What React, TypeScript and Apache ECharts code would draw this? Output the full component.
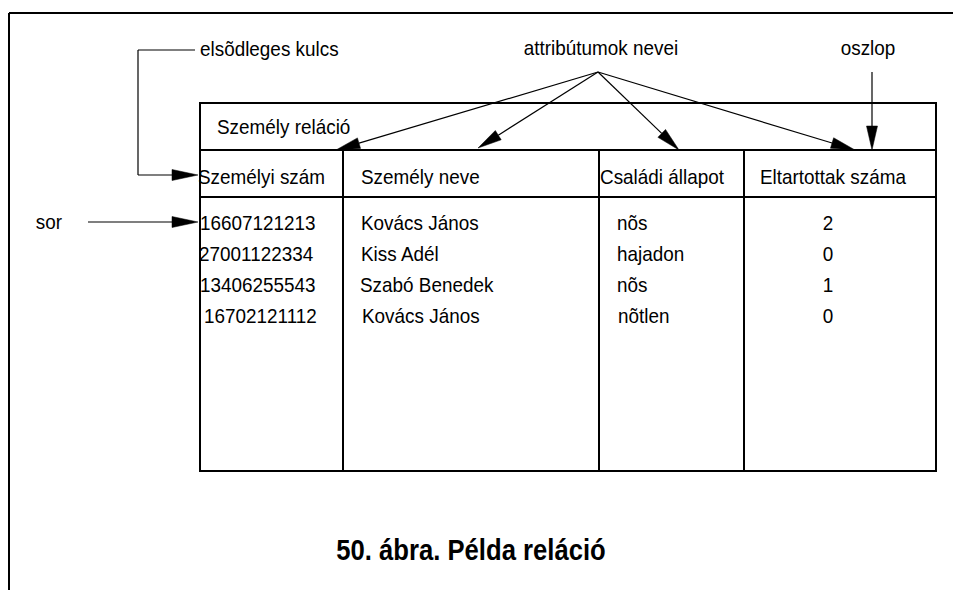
import React, { useEffect, useRef } from "react";
import * as echarts from "echarts";

// ---- Data ----
const relationName = "Személy reláció";
const headerLabels = ["Személyi szám", "Személy neve", "Családi állapot", "Eltartottak száma"];
const ids = ["16607121213", "27001122334", "13406255543", "16702121112"];
const names = ["Kovács János", "Kiss Adél", "Szabó Benedek", "Kovács János"];
const statuses = ["nõs", "hajadon", "nõs", "nõtlen"];
const dependents = [2, 0, 1, 0];
const annotations = {
  key: "elsõdleges kulcs",
  attrs: "attribútumok nevei",
  column: "oszlop",
  row: "sor",
};
const caption = "50. ábra. Példa reláció";

// ---- Layout ----
const FONT = "'Liberation Sans', Arial, Helvetica, sans-serif";
const colX = [200, 343, 599, 744, 936];
const tTop = 103, relBottom = 150, headBottom = 197, tBottom = 471;
const headerY = 177;
const rowY = [223, 254, 285, 316];
const idX = [200, 199, 200, 204];
const nameX = [361, 361, 360, 362];
const statusX = [617, 617, 617, 618];
const depX = 828;
const headerX = [198, 361, 600, 760];

function text(t: string, x: number, y: number, opts: any = {}) {
  return {
    type: "text",
    x,
    y,
    scaleX: opts.scaleX ?? 0.9,
    scaleY: opts.scaleY ?? 1,
    style: {
      text: t,
      x: 0,
      y: 0,
      fill: "#000",
      font: `${opts.weight ?? "normal"} ${opts.size ?? 21}px ${FONT}`,
      textAlign: opts.align ?? "left",
      textVerticalAlign: "middle",
    },
  };
}

function line(x1: number, y1: number, x2: number, y2: number, w = 1) {
  return {
    type: "line",
    shape: { x1, y1, x2, y2 },
    style: { stroke: "#000", lineWidth: w },
  };
}

function arrow(fx: number, fy: number, tx: number, ty: number, L = 24, hw = 5.5) {
  const dx = tx - fx, dy = ty - fy;
  const len = Math.sqrt(dx * dx + dy * dy);
  const ux = dx / len, uy = dy / len;
  const bx = tx - ux * L, by = ty - uy * L;
  const nx = -uy, ny = ux;
  return [
    line(fx, fy, bx, by, 1.2),
    {
      type: "polygon",
      shape: {
        points: [
          [tx, ty],
          [bx + nx * hw, by + ny * hw],
          [bx - nx * hw, by - ny * hw],
        ],
      },
      style: { fill: "#000", stroke: "#000", lineWidth: 0.5 },
    },
  ];
}

export default function App() {
  const ref = useRef<HTMLDivElement>(null);
  useEffect(() => {
    if (!ref.current) return;
    const chart = echarts.init(ref.current, null, { renderer: "svg" });
    const els: any[] = [];

    // page frame
    els.push(line(9, 13, 960, 13, 2));
    els.push(line(9, 13, 9, 600, 2));

    // table
    els.push({
      type: "rect",
      shape: { x: colX[0], y: tTop, width: colX[4] - colX[0], height: tBottom - tTop },
      style: { fill: "none", stroke: "#000", lineWidth: 2 },
    });
    els.push(line(colX[0], relBottom, colX[4], relBottom, 2));
    els.push(line(colX[0], headBottom, colX[4], headBottom, 2));
    for (let i = 1; i < 4; i++) els.push(line(colX[i], relBottom, colX[i], tBottom, 2));

    // relation name and headers
    els.push(text(relationName, 217, 127));
    headerLabels.forEach((h, i) => els.push(text(h, headerX[i], headerY)));

    // rows
    ids.forEach((v, i) => els.push(text(v, idX[i], rowY[i])));
    names.forEach((v, i) => els.push(text(v, nameX[i], rowY[i])));
    statuses.forEach((v, i) => els.push(text(v, statusX[i], rowY[i])));
    dependents.forEach((v, i) => els.push(text(String(v), depX, rowY[i], { align: "center" })));

    // annotations
    els.push(text(annotations.key, 200, 49));
    els.push(line(195, 50, 138, 50, 1.2));
    els.push(line(138, 50, 138, 175, 1.2));
    els.push(...arrow(138, 175, 198, 175, 26, 5.5));

    els.push(text(annotations.attrs, 601, 48, { align: "center" }));
    const src = [598, 72];
    els.push(...arrow(src[0], src[1], 336, 150));
    els.push(...arrow(src[0], src[1], 478, 148));
    els.push(...arrow(src[0], src[1], 679, 150));
    els.push(...arrow(src[0], src[1], 855, 150));

    els.push(text(annotations.column, 868, 48, { align: "center" }));
    els.push(...arrow(872, 72, 872, 150));

    els.push(text(annotations.row, 49, 222, { align: "center" }));
    els.push(...arrow(88, 222, 198, 222, 26, 5.5));

    // caption
    els.push(text(caption, 471, 550, { align: "center", weight: "bold", size: 27, scaleX: 0.95, scaleY: 1.08 }));

    chart.setOption({
      animation: false,
      backgroundColor: "#fff",
      graphic: { elements: els },
    });
    return () => chart.dispose();
  }, []);
  return (
    <div
      ref={ref}
      style={{ position: "fixed", left: 0, top: 0, width: 953, height: 590, background: "#fff" }}
    />
  );
}
